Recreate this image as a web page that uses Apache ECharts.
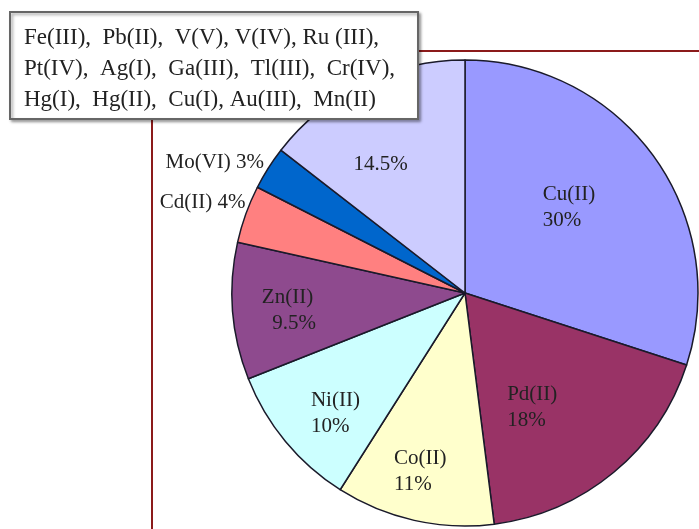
<!DOCTYPE html>
<html>
<head>
<meta charset="utf-8">
<script src="https://cdn.jsdelivr.net/npm/echarts@6/dist/echarts.min.js"></script>
<style>
  html, body { margin: 0; padding: 0; background: #fff; }
  #chart { width: 699px; height: 529px; }
</style>
</head>
<body>
<div id="chart"></div>
<script>
const ions = ["Cu(II)", "Pd(II)", "Co(II)", "Ni(II)", "Zn(II)", "Cd(II)", "Mo(VI)", "Others"]
const shares = [30, 18, 11, 10, 9.5, 4, 3, 14.5]
const sliceColors = ["#9999ff", "#993366", "#ffffcc", "#ccffff", "#8e4a8e", "#ff8080", "#0066cc", "#ccccff"]
const otherIons = [
  "Fe(III),  Pb(II),  V(V), V(IV), Ru (III),",
  "Pt(IV),  Ag(I),  Ga(III),  Tl(III),  Cr(IV),",
  "Hg(I),  Hg(II),  Cu(I), Au(III),  Mn(II)"
]

// label nudges [dx, dy, align] from the default inside position
const labelShift = [
  [-19, -15, "left"], [-34, 22, "left"], [-45, 62, "left"], [-62, 44, "left"],
  [-84, 8, "left"], [-107, -50, "right"], [-100, -66, "right"], [-59, -21, "left"]
]

const chart = echarts.init(document.getElementById("chart"))

const labelText = (p) => {
  if (p.dataIndex === 7) return p.value + "%"
  if (p.dataIndex === 5 || p.dataIndex === 6) return p.name + " " + p.value + "%"
  if (p.dataIndex === 4) return p.name + "\n  " + p.value + "%"
  return p.name + "\n" + p.value + "%"
}

const frameColor = "#8b1a1a"

const option = {
  backgroundColor: "#fff",
  animation: false,
  graphic: [
    { type: "line", shape: { x1: 152, y1: 51, x2: 699, y2: 51 }, style: { stroke: frameColor, lineWidth: 2 }, z: 0 },
    { type: "line", shape: { x1: 152, y1: 51, x2: 152, y2: 529 }, style: { stroke: frameColor, lineWidth: 2 }, z: 0 },
    {
      type: "rect",
      z: 100,
      zlevel: 1,
      shape: { x: 10, y: 12, width: 408, height: 107 },
      style: {
        fill: "#fff", stroke: "#666", lineWidth: 2,
        shadowColor: "rgba(0,0,0,0.35)", shadowBlur: 3, shadowOffsetX: 2, shadowOffsetY: 2
      }
    },
    ...otherIons.map((line, i) => ({
      type: "text",
      z: 101,
      zlevel: 1,
      x: 24,
      y: 38 + i * 31,
      style: {
        text: line,
        font: "23px 'Liberation Serif'",
        fill: "#222",
        verticalAlign: "middle"
      }
    }))
  ],
  series: [
    {
      type: "pie",
      center: [465, 293],
      radius: 233,
      startAngle: 90,
      clockwise: true,
      silent: true,
      data: ions.map((name, i) => ({
        name,
        value: shares[i],
        itemStyle: { color: sliceColors[i] }
      })),
      itemStyle: { borderColor: "#1a1a2a", borderWidth: 1.5 },
      label: {
        show: true,
        position: "inside",
        formatter: labelText,
        fontFamily: "Liberation Serif",
        fontSize: 21,
        lineHeight: 26,
        color: "#222"
      },
      labelLine: { show: false },
      labelLayout: (p) => {
        const s = labelShift[p.dataIndex]
        return { dx: s[0], dy: s[1], align: s[2] }
      }
    }
  ]
}

chart.setOption(option)
</script>
</body>
</html>
